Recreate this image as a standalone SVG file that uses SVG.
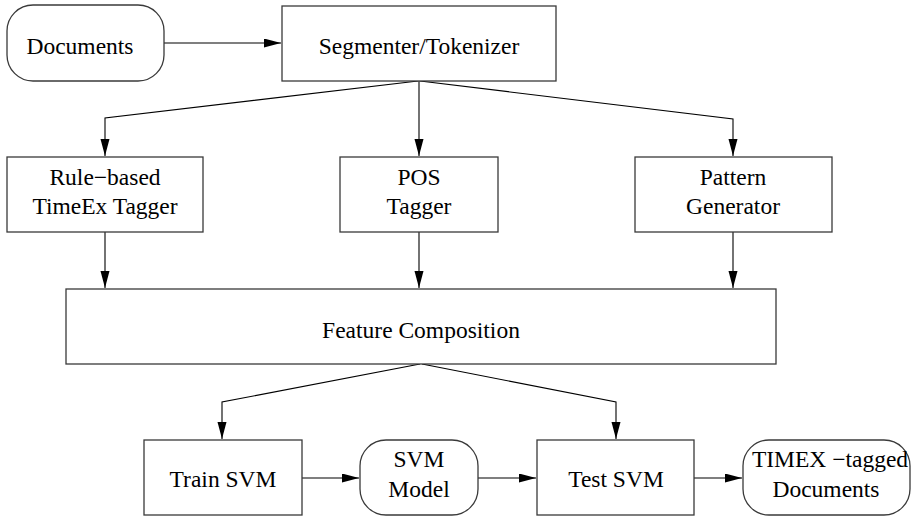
<svg xmlns="http://www.w3.org/2000/svg" width="914" height="517" viewBox="0 0 914 517">
<style>
.box{fill:#fff;stroke:#3a3a3a;stroke-width:1.3}
.t{font-family:"Liberation Serif","Times New Roman",serif;font-size:23.5px;fill:#000;text-anchor:middle}
.c{fill:none;stroke:#000;stroke-width:1.1}
</style>
<defs>
<marker id="ah" markerUnits="userSpaceOnUse" markerWidth="18" markerHeight="10" refX="17" refY="4.5" orient="auto">
<path d="M0,0 L17,4.5 L0,9 Z" fill="#000"/>
</marker>
</defs>
<g id="connectors">
<path class="c" d="M164,43 H281" marker-end="url(#ah)"/>
<path class="c" d="M418,81 L105,118 V156" marker-end="url(#ah)"/>
<path class="c" d="M419,81 V156" marker-end="url(#ah)"/>
<path class="c" d="M420,81 L733,119 V156" marker-end="url(#ah)"/>
<path class="c" d="M105,232 V288" marker-end="url(#ah)"/>
<path class="c" d="M419,232 V288" marker-end="url(#ah)"/>
<path class="c" d="M733,232 V288" marker-end="url(#ah)"/>
<path class="c" d="M420,364 L222,402 V439" marker-end="url(#ah)"/>
<path class="c" d="M422,364 L616,402 V439" marker-end="url(#ah)"/>
<path class="c" d="M302,478 H359" marker-end="url(#ah)"/>
<path class="c" d="M478,478 H536" marker-end="url(#ah)"/>
<path class="c" d="M694,478 H742" marker-end="url(#ah)"/>
</g>
<g id="documents">
<rect class="box" x="7" y="5" width="157" height="76" rx="26" ry="26"/>
<text class="t" x="80" y="54">Documents</text>
</g>
<g id="segmenter">
<rect class="box" x="282" y="6" width="274" height="75"/>
<text class="t" x="419" y="54">Segmenter/Tokenizer</text>
</g>
<g id="rule-based">
<rect class="box" x="7" y="157" width="196" height="75"/>
<text class="t" x="105" y="185">Rule−based</text>
<text class="t" x="105" y="214">TimeEx Tagger</text>
</g>
<g id="pos">
<rect class="box" x="340" y="157" width="158" height="75"/>
<text class="t" x="419" y="185">POS</text>
<text class="t" x="419" y="214">Tagger</text>
</g>
<g id="pattern">
<rect class="box" x="635" y="157" width="197" height="75"/>
<text class="t" x="733" y="185">Pattern</text>
<text class="t" x="733" y="214">Generator</text>
</g>
<g id="feature">
<rect class="box" x="66" y="289" width="710" height="75"/>
<text class="t" x="421" y="338">Feature Composition</text>
</g>
<g id="train">
<rect class="box" x="144" y="440" width="158" height="75"/>
<text class="t" x="223" y="487">Train SVM</text>
</g>
<g id="model">
<rect class="box" x="360" y="440" width="118" height="75" rx="26" ry="26"/>
<text class="t" x="419" y="467">SVM</text>
<text class="t" x="419" y="497">Model</text>
</g>
<g id="test">
<rect class="box" x="537" y="440" width="157" height="75"/>
<text class="t" x="616" y="487">Test SVM</text>
</g>
<g id="timex">
<rect class="box" x="743" y="440" width="167" height="75" rx="26" ry="26"/>
<text class="t" x="830" y="467">TIMEX −tagged</text>
<text class="t" x="826" y="497">Documents</text>
</g>
</svg>
